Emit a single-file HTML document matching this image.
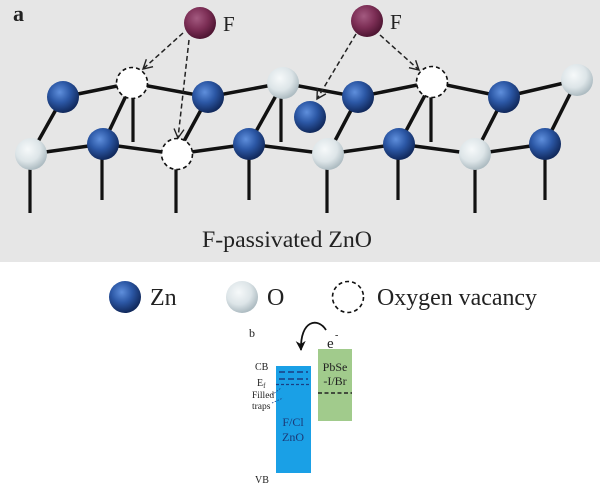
<!DOCTYPE html>
<html><head><meta charset="utf-8"><style>
html,body{margin:0;padding:0;background:#fff;}
svg{display:block;}
</style></head><body>
<svg width="600" height="500" viewBox="0 0 600 500" xmlns="http://www.w3.org/2000/svg">
<defs>
<radialGradient id="zn" cx="40%" cy="35%" r="65%">
<stop offset="0" stop-color="#5f8fdc"/><stop offset="0.5" stop-color="#2c58a6"/><stop offset="1" stop-color="#11295c"/>
</radialGradient>
<radialGradient id="ox" cx="40%" cy="35%" r="65%">
<stop offset="0" stop-color="#f6f9fa"/><stop offset="0.6" stop-color="#dde5e8"/><stop offset="1" stop-color="#aebcc2"/>
</radialGradient>
<radialGradient id="fl" cx="40%" cy="35%" r="65%">
<stop offset="0" stop-color="#a35a80"/><stop offset="0.55" stop-color="#7c2e55"/><stop offset="1" stop-color="#4e1532"/>
</radialGradient>
<marker id="ah" markerWidth="12" markerHeight="12" refX="10" refY="6" orient="auto" markerUnits="userSpaceOnUse">
<polyline points="1,1 10,6 1,11" fill="none" stroke="#222" stroke-width="1.4"/>
</marker>
<marker id="bh" markerWidth="12" markerHeight="12" refX="9" refY="6" orient="auto" markerUnits="userSpaceOnUse">
<polygon points="0,1 10,6 0,11 3,6" fill="#111"/>
</marker>
</defs>
<rect x="0" y="0" width="600" height="262" fill="#e6e6e6"/>
<text x="13" y="21" font-family="Liberation Serif, serif" font-size="22" font-weight="bold" fill="#222">a</text>

<g stroke="#111" stroke-width="3.5" fill="none" stroke-linecap="butt">
<polyline points="63,97 132,83 208,97 283,83 358,97 432,82 504,97 577,80"/>
<polyline points="31,154 103,144 177,154 249,144 328,154 399,144 475,154 545,144"/>
<line x1="63" y1="97" x2="31" y2="154"/>
<line x1="132" y1="83" x2="103" y2="144"/>
<line x1="208" y1="97" x2="177" y2="154"/>
<line x1="283" y1="83" x2="249" y2="144"/>
<line x1="358" y1="97" x2="328" y2="154"/>
<line x1="432" y1="82" x2="399" y2="144"/>
<line x1="504" y1="97" x2="475" y2="154"/>
<line x1="577" y1="80" x2="545" y2="144"/>
</g>
<g stroke="#111" stroke-width="3.2">
<line x1="133" y1="83" x2="133" y2="142"/>
<line x1="281" y1="83" x2="281" y2="142"/>
<line x1="431" y1="82" x2="431" y2="142"/>
<line x1="30" y1="154" x2="30" y2="213"/>
<line x1="102" y1="144" x2="102" y2="200"/>
<line x1="176" y1="154" x2="176" y2="213"/>
<line x1="249" y1="144" x2="249" y2="200"/>
<line x1="327" y1="154" x2="327" y2="213"/>
<line x1="398" y1="144" x2="398" y2="200"/>
<line x1="475" y1="154" x2="475" y2="213"/>
<line x1="545" y1="144" x2="545" y2="200"/>
</g>
<g>
<circle cx="63" cy="97" r="16" fill="url(#zn)"/>
<circle cx="208" cy="97" r="16" fill="url(#zn)"/>
<circle cx="358" cy="97" r="16" fill="url(#zn)"/>
<circle cx="504" cy="97" r="16" fill="url(#zn)"/>
<circle cx="103" cy="144" r="16" fill="url(#zn)"/>
<circle cx="249" cy="144" r="16" fill="url(#zn)"/>
<circle cx="399" cy="144" r="16" fill="url(#zn)"/>
<circle cx="545" cy="144" r="16" fill="url(#zn)"/>
<circle cx="310" cy="117" r="16" fill="url(#zn)"/>
<circle cx="283" cy="83" r="16" fill="url(#ox)"/>
<circle cx="577" cy="80" r="16" fill="url(#ox)"/>
<circle cx="31" cy="154" r="16" fill="url(#ox)"/>
<circle cx="328" cy="154" r="16" fill="url(#ox)"/>
<circle cx="475" cy="154" r="16" fill="url(#ox)"/>
<circle cx="132" cy="83" r="15.5" fill="#fff" stroke="#111" stroke-width="1.6" stroke-dasharray="4,3"/>
<circle cx="177" cy="154" r="15.5" fill="#fff" stroke="#111" stroke-width="1.6" stroke-dasharray="4,3"/>
<circle cx="432" cy="82" r="15.5" fill="#fff" stroke="#111" stroke-width="1.6" stroke-dasharray="4,3"/>
</g>
<circle cx="200" cy="23" r="16" fill="url(#fl)"/>
<circle cx="367" cy="21" r="16" fill="url(#fl)"/>
<text x="223" y="31" font-family="Liberation Serif, serif" font-size="21" fill="#222">F</text>
<text x="390" y="29" font-family="Liberation Serif, serif" font-size="21" fill="#222">F</text>
<g stroke="#222" stroke-width="1.5" stroke-dasharray="5,3" fill="none">
<line x1="183" y1="33" x2="143" y2="69" marker-end="url(#ah)"/>
<line x1="189" y1="40" x2="178" y2="138" marker-end="url(#ah)"/>
<line x1="356" y1="34" x2="317" y2="99" marker-end="url(#ah)"/>
<line x1="380" y1="35" x2="419" y2="70" marker-end="url(#ah)"/>
</g>
<text x="202" y="247" font-family="Liberation Serif, serif" font-size="23" fill="#222" textLength="170" lengthAdjust="spacingAndGlyphs">F-passivated ZnO</text>

<circle cx="125" cy="297" r="16" fill="url(#zn)"/>
<text x="150" y="305" font-family="Liberation Serif, serif" font-size="24" fill="#222">Zn</text>
<circle cx="242" cy="297" r="16" fill="url(#ox)"/>
<text x="267" y="305" font-family="Liberation Serif, serif" font-size="24" fill="#222">O</text>
<circle cx="348" cy="297" r="15.5" fill="#fff" stroke="#111" stroke-width="1.6" stroke-dasharray="4,3"/>
<text x="377" y="305" font-family="Liberation Serif, serif" font-size="24" fill="#222" textLength="160" lengthAdjust="spacingAndGlyphs">Oxygen vacancy</text>

<text x="249" y="337" font-family="Liberation Serif, serif" font-size="12" fill="#222">b</text>
<path d="M326 330 C318 317, 300 320, 301 350" fill="none" stroke="#111" stroke-width="1.8" marker-end="url(#bh)"/>
<text x="327" y="348" font-family="Liberation Serif, serif" font-size="15" fill="#222">e</text>
<text x="335" y="338" font-family="Liberation Serif, serif" font-size="10" fill="#222">-</text>
<rect x="276" y="366" width="35" height="107" fill="#1aa0e6"/>
<rect x="318" y="349" width="34" height="72" fill="#a1cb8c"/>
<g stroke="#1a3e82" stroke-width="1.5" fill="none">
<line x1="279" y1="372" x2="308" y2="372" stroke-dasharray="6,3"/>
<line x1="279" y1="379" x2="308" y2="379" stroke-dasharray="6,3"/>
<line x1="276" y1="384.5" x2="311" y2="384.5" stroke-dasharray="3,2" stroke-width="1.2"/>
</g>
<line x1="318" y1="393" x2="352" y2="393" stroke="#222" stroke-width="1.5" stroke-dasharray="4,2.5"/>
<g stroke="#1a3e82" stroke-width="0.8" stroke-dasharray="1.5,1.5" fill="none">
<line x1="272" y1="395" x2="281" y2="388"/>
<line x1="272" y1="403" x2="283" y2="398"/>
</g>
<g font-family="Liberation Serif, serif" fill="#222">
<text x="255" y="370" font-size="10">CB</text>
<text x="257" y="386" font-size="10">E<tspan font-size="7" dy="2">f</tspan></text>
<text x="252" y="398" font-size="9.5">Filled</text>
<text x="252" y="409" font-size="9.5">traps</text>
<text x="255" y="483" font-size="10">VB</text>
</g>
<g font-family="Liberation Serif, serif" fill="#1b3a78" font-size="12" text-anchor="middle">
<text x="293" y="426">F/Cl</text>
<text x="293" y="441">ZnO</text>
</g>
<g font-family="Liberation Serif, serif" fill="#222" font-size="12" text-anchor="middle">
<text x="335" y="371">PbSe</text>
<text x="335" y="385">-I/Br</text>
</g>
</svg>
</body></html>
